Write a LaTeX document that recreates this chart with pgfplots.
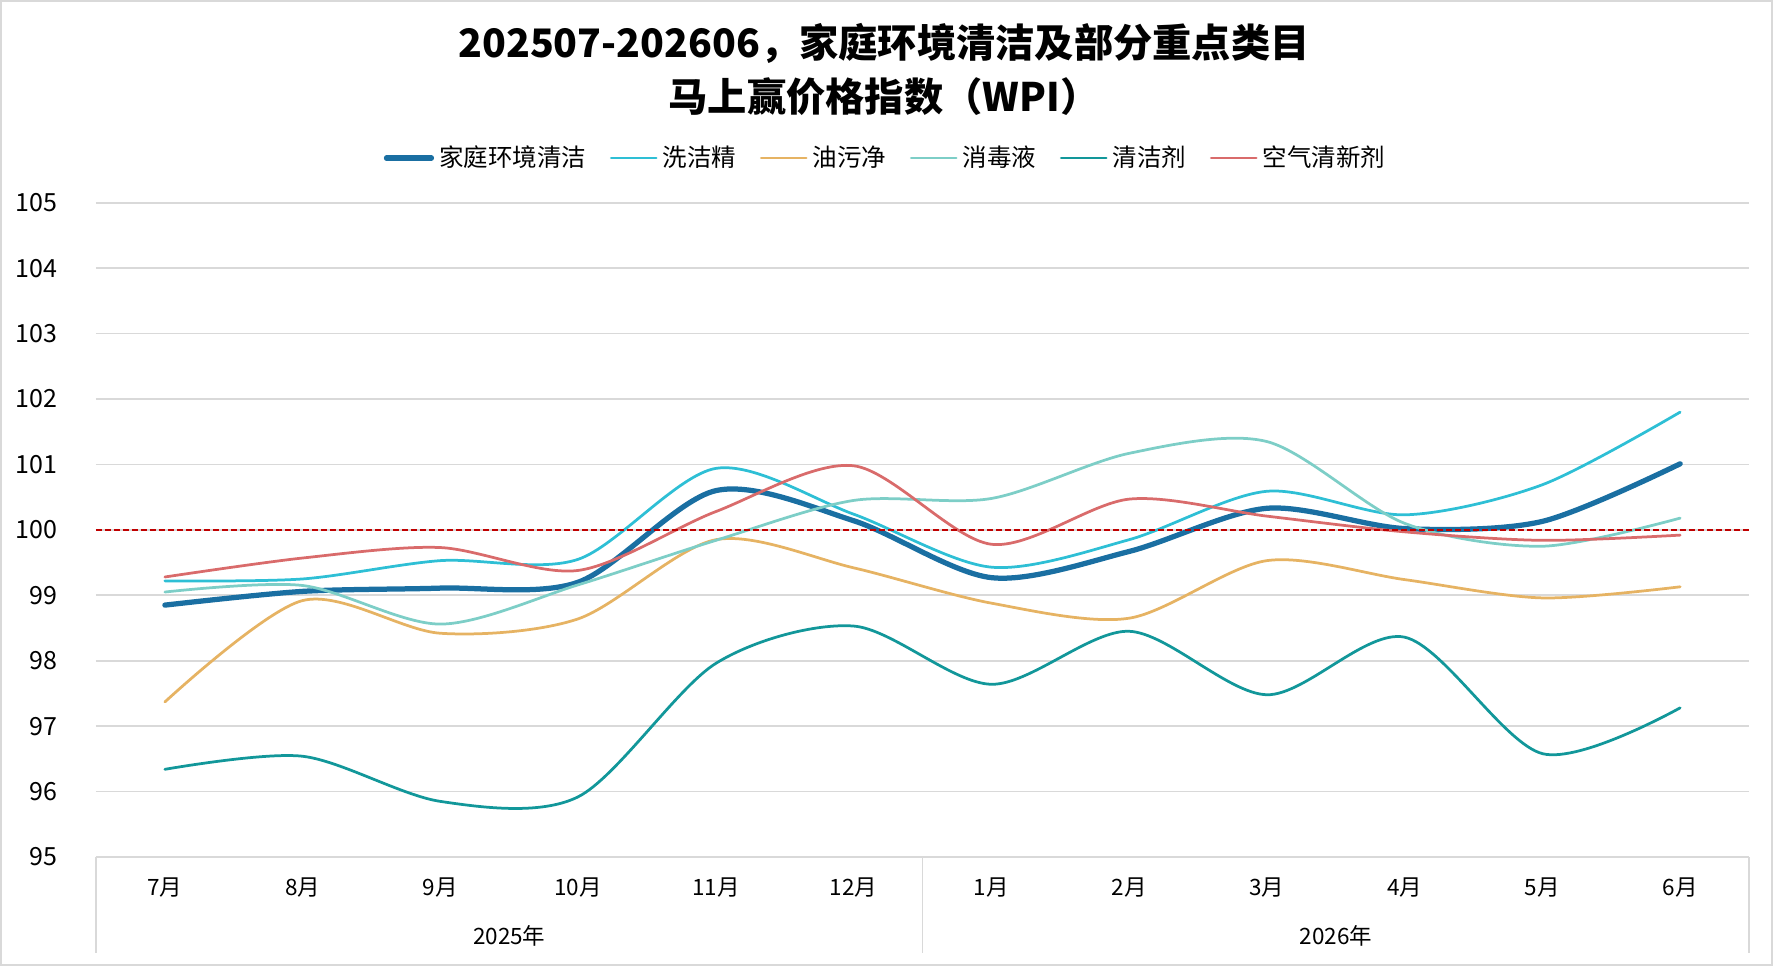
\documentclass[border=0pt]{standalone}
\usepackage{fontspec}
\setmainfont{Noto Sans CJK SC}
\usepackage{pgfplots}
\pgfplotsset{compat=1.18}
\definecolor{cMain}{HTML}{1A6FA2}
\definecolor{cXJJ}{HTML}{2EBFD5}
\definecolor{cYWJ}{HTML}{E6B363}
\definecolor{cXDY}{HTML}{7DCEC7}
\definecolor{cQJJ}{HTML}{12979A}
\definecolor{cKQ}{HTML}{D96B6B}
\definecolor{cRef}{HTML}{C00000}
\begin{document}
\begin{tikzpicture}
\useasboundingbox (0,0) rectangle (709.2pt,386.4pt);
\draw[gray!30, line width=0.8pt] (0.4pt,0.4pt) rectangle (708.8pt,386pt);
\node[font=\bfseries\fontsize{15.7}{19}\selectfont] at (353.6pt,369.2pt) {202507-202606，家庭环境清洁及部分重点类目};
\node[font=\bfseries\fontsize{15.7}{19}\selectfont] at (353.6pt,347.6pt) {马上赢价格指数（WPI）};
\begin{axis}[
  at={(38.4pt,43.6pt)}, anchor=south west,
  scale only axis, width=661.2pt, height=261.7pt,
  xmin=-0.5, xmax=11.5, ymin=95, ymax=105,
  ytick={95,96,...,105},
  xtick={0,...,11},
  xticklabels={7月,8月,9月,10月,11月,12月,1月,2月,3月,4月,5月,6月},
  ymajorgrids, grid style={gray!30, line width=0.7pt},
  axis line style={draw=none},
  major tick length=0pt,
  clip=false,
  /pgf/number format/assume math mode=true,
  yticklabel style={font=\fontsize{10}{12}\selectfont, anchor=east, xshift=-12pt},
  xticklabel style={font=\fontsize{9}{11}\selectfont, anchor=center, yshift=-12.4pt},
  legend columns=6,
  legend style={draw=none, fill=none, at={(0.4785,1.0683)}, anchor=center,
    font=\fontsize{9.8}{11}\selectfont,
    /tikz/every even column/.append style={column sep=7.5pt}},
  legend cell align=left,
  legend image code/.code={\draw[#1] (0pt,0pt) -- (18pt,0pt);},
  every axis plot/.append style={smooth, line cap=round},
]
\addplot[cMain, line width=2.1pt] coordinates {(0,98.85) (1,99.06) (2,99.11) (3,99.20) (4,100.60) (5,100.14) (6,99.27) (7,99.67) (8,100.33) (9,100.02) (10,100.13) (11,101.01)};
\addlegendentry{家庭环境清洁}
\addplot[cXJJ, line width=1.1pt] coordinates {(0,99.22) (1,99.25) (2,99.53) (3,99.55) (4,100.94) (5,100.24) (6,99.43) (7,99.85) (8,100.59) (9,100.23) (10,100.69) (11,101.80)};
\addlegendentry{洗洁精}
\addplot[cYWJ, line width=1.1pt] coordinates {(0,97.37) (1,98.92) (2,98.42) (3,98.64) (4,99.85) (5,99.42) (6,98.88) (7,98.65) (8,99.53) (9,99.24) (10,98.96) (11,99.13)};
\addlegendentry{油污净}
\addplot[cXDY, line width=1.1pt] coordinates {(0,99.05) (1,99.15) (2,98.56) (3,99.16) (4,99.84) (5,100.45) (6,100.48) (7,101.17) (8,101.35) (9,100.10) (10,99.75) (11,100.18)};
\addlegendentry{消毒液}
\addplot[cQJJ, line width=1.1pt] coordinates {(0,96.34) (1,96.54) (2,95.85) (3,95.92) (4,97.96) (5,98.53) (6,97.64) (7,98.45) (8,97.48) (9,98.36) (10,96.58) (11,97.28)};
\addlegendentry{清洁剂}
\addplot[cKQ, line width=1.1pt] coordinates {(0,99.28) (1,99.57) (2,99.73) (3,99.38) (4,100.28) (5,100.98) (6,99.78) (7,100.47) (8,100.21) (9,99.97) (10,99.84) (11,99.92)};
\addlegendentry{空气清新剂}
\addplot[cRef, line width=0.7pt, sharp plot, line cap=butt, dash pattern=on 2.4pt off 1.2pt, forget plot] coordinates {(-0.5,100) (11.5,100)};
\draw[gray!30, line width=0.7pt] (axis cs:-0.5,95) -- ++(0pt,-38.4pt);
\draw[gray!30, line width=0.7pt] (axis cs:5.5,95) -- ++(0pt,-38.4pt);
\draw[gray!30, line width=0.7pt] (axis cs:11.5,95) -- ++(0pt,-38.4pt);
\node[font=\fontsize{9}{11}\selectfont] at (axis cs:2.5,95) [yshift=-31.6pt] {2025年};
\node[font=\fontsize{9}{11}\selectfont] at (axis cs:8.5,95) [yshift=-31.6pt] {2026年};
\end{axis}
\end{tikzpicture}
\end{document}
